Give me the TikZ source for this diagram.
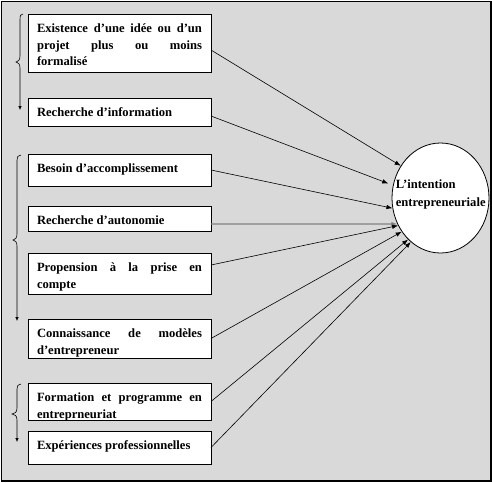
\documentclass[tikz,border=0pt]{standalone}
\usepackage{fontspec}
\setmainfont{Liberation Serif}
\usetikzlibrary{arrows.meta}
\usetikzlibrary{positioning}
\usetikzlibrary{shapes.geometric}

\begin{document}
\begin{tikzpicture}[
		x=1pt, y=-1pt,
		link/.style={line width=0.6pt, -{Latex[length=6pt,width=4.5pt]}},
		brace/.style={line width=0.6pt, -{Latex[length=4pt,width=3.5pt]}},
		box/.style={draw, fill=white, line width=0.8pt, outer sep=0pt, text width=165pt, align=justify,
			inner xsep=9pt, inner ysep=4pt, text height=14.5pt,
			font=\bfseries\fontsize{12.6}{16.5}\selectfont},
	]
	\useasboundingbox (0,0) rectangle (492,482);
	\draw[line width=0.6pt, fill=black!15] (1,1) rectangle (491,481);
	\draw[line width=1.4pt] (491,1) -- (491,481) -- (1,481);

	\node[box, anchor=north west, text depth=35.5pt] (idea) at (28,14) {Existence d’une idée ou d’un\linebreak projet plus ou moins\linebreak formalisé};
	\node[box, below=26pt of idea, text depth=5.5pt] (info) {Recherche d’information};
	\node[box, below=28pt of info, text depth=9.5pt] (need) {Besoin d’accomplissement};
	\node[box, below=20pt of need, text depth=2.5pt] (autonomy) {Recherche d’autonomie};
	\node[box, below=22pt of autonomy, text depth=18.5pt] (risk) {Propension à la prise en\linebreak compte};
	\node[box, below=25pt of risk, text depth=16.5pt] (models) {Connaissance de modèles\linebreak d’entrepreneur};
	\node[box, below=25pt of models, text depth=14.5pt] (training) {Formation et programme en\linebreak entreprneuriat};
	\node[box, below=11pt of training, text depth=10.5pt] (work) {Expériences professionnelles};

	\node[ellipse, draw, fill=white, line width=0.8pt, inner sep=0pt, minimum width=97pt, minimum height=110pt] (goal) at (440.5,198) {};
	\node[anchor=west, align=left, inner sep=0pt, font=\bfseries\fontsize{12.6}{18}\selectfont] (goaltext) at ([xshift=4pt, yshift=4pt]goal.west) {L’intention\\entrepreneuriale};

	% links into the ellipse
	\draw[link] ([yshift=-7pt]idea.east) -- (goal.141);
	\draw[link, shorten >=5pt] ([yshift=-4pt]info.east) -- (goal.165);
	\draw[link] (need.east) -- (goal.192);
	\draw[link, gray, line width=1.2pt] ([yshift=-5.5pt]autonomy.east) -- (goal.211);
	\draw[link] ([yshift=8.5pt]risk.east) -- (goal.213);
	\draw[link] (models.east) -- (goal.221);
	\draw[link] (training.east) -- (goal.232);
	\draw[link] (work.east) -- (goal.236);

	% brackets on the left
	\draw[brace] (23,14) .. controls (20,14) and (20,16) .. (20,19) -- (20,56) .. controls (20,60) and (18,62) .. (16,62) .. controls (18,62) and (20,64) .. (20,68) -- (20,110);
	\draw[brace] (21,155) .. controls (18,155) and (17,157) .. (17,160) -- (17,234) .. controls (17,238) and (15,240) .. (13,240) .. controls (15,240) and (17,242) .. (17,246) -- (17,321);
	\draw[brace] (21,384) .. controls (18,384) and (17,386) .. (17,389) -- (17,408) .. controls (17,412) and (15,414) .. (12,414) .. controls (15,414) and (17,416) .. (17,420) -- (17,442);
\end{tikzpicture}
\end{document}
